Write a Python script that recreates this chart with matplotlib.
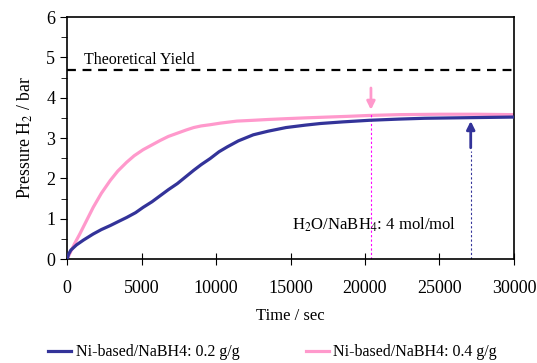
import matplotlib.pyplot as plt
from matplotlib.ticker import MultipleLocator

plt.rcParams['font.family'] = ['Liberation Serif', 'DejaVu Serif']
plt.rcParams['mathtext.fontset'] = 'stix'

# --- data ---
t_pink = [0, 200, 500, 850, 1300, 1750, 2300, 2900, 3400, 4000, 4500, 5100, 5700,
          6250, 6800, 7400, 8000, 8500, 9000, 9600, 10300, 11400, 12500, 13500,
          14700, 16000, 17500, 19000, 20300, 22300, 25000, 27500, 30000]
p_pink = [0, 0.15, 0.38, 0.62, 0.95, 1.28, 1.63, 1.95, 2.18, 2.40, 2.56, 2.71, 2.83,
          2.94, 3.04, 3.12, 3.20, 3.26, 3.30, 3.33, 3.37, 3.42, 3.44, 3.46,
          3.48, 3.50, 3.52, 3.54, 3.56, 3.58, 3.59, 3.59, 3.58]

t_blue = [0, 100, 250, 630, 1100, 1750, 2300, 2900, 3500, 4000, 4600, 5100, 5700,
          6250, 6800, 7400, 8000, 8500, 9000, 9600, 10200, 10750, 11500, 12500,
          13500, 14700, 16000, 17000, 18500, 20300, 22300, 24000, 26000, 28000, 30000]
p_blue = [0, 0.12, 0.22, 0.35, 0.47, 0.62, 0.73, 0.83, 0.94, 1.03, 1.15, 1.28, 1.42,
          1.57, 1.72, 1.87, 2.05, 2.20, 2.34, 2.49, 2.66, 2.78, 2.93, 3.08,
          3.17, 3.26, 3.32, 3.36, 3.40, 3.44, 3.47, 3.49, 3.50, 3.51, 3.52]

theoretical_yield = 4.68
arrow_pink = (20400, 4.31, 3.63)   # x, tail, tip
arrow_blue = (27100, 2.69, 3.49)

blue = '#333399'
pink = '#ff99cc'

fig = plt.figure(figsize=(5.37, 3.63), dpi=100)
ax = fig.add_axes([0.125, 0.2865, 0.832, 0.6665])

ax.plot(t_blue, p_blue, color=blue, lw=2.3, label='Ni-based/NaBH4: 0.2 g/g', zorder=3)
ax.plot(t_pink, p_pink, color=pink, lw=2.3, label='Ni-based/NaBH4: 0.4 g/g', zorder=2)

ax.axhline(theoretical_yield, color='black', ls=(0, (4, 3)), lw=1.6)
ax.text(1100, 4.93, 'Theoretical Yield', fontsize=11.5, va='center', ha='left')

# arrows + dashed drop lines
x, y0, y1 = arrow_pink
ax.plot([x, x], [0, y1], color='#ff00ff', ls=(0, (2, 2)), lw=0.8)
ax.annotate('', xy=(x, y1), xytext=(x, y0),
            arrowprops=dict(arrowstyle='-|>', color=pink, lw=2, mutation_scale=12))
x, y0, y1 = arrow_blue
ax.plot([x, x], [0, y0], color=blue, ls=(0, (2, 2)), lw=0.8)
ax.annotate('', xy=(x, y1), xytext=(x, y0),
            arrowprops=dict(arrowstyle='-|>', color=blue, lw=2, mutation_scale=12))

ax.text(15100, 0.85, r'H$_2$O/NaBH$_4$: 4 mol/mol', fontsize=12, va='center', ha='left')

ax.set_xlim(0, 30000)
ax.set_ylim(0, 6)
ax.xaxis.set_major_locator(MultipleLocator(5000))
ax.yaxis.set_major_locator(MultipleLocator(1))
ax.yaxis.set_minor_locator(MultipleLocator(0.5))
ax.tick_params(axis='x', direction='inout', length=8, labelsize=13, pad=11)
ax.tick_params(axis='y', direction='out', length=5, labelsize=13)
ax.tick_params(axis='y', which='minor', direction='out', length=4)
for s in ax.spines.values():
    s.set_linewidth(1.2)

ax.set_xlabel('Time / sec', fontsize=12, labelpad=8)
ax.set_ylabel(r'Pressure H$_2$ / bar', fontsize=12.8, labelpad=8)

fig.legend(loc='center', bbox_to_anchor=(0.508, 0.03), ncol=2, frameon=False,
           fontsize=11.5, handlelength=1.4, handletextpad=0.3, columnspacing=4.2)

fig.savefig('out.png', dpi=100)
